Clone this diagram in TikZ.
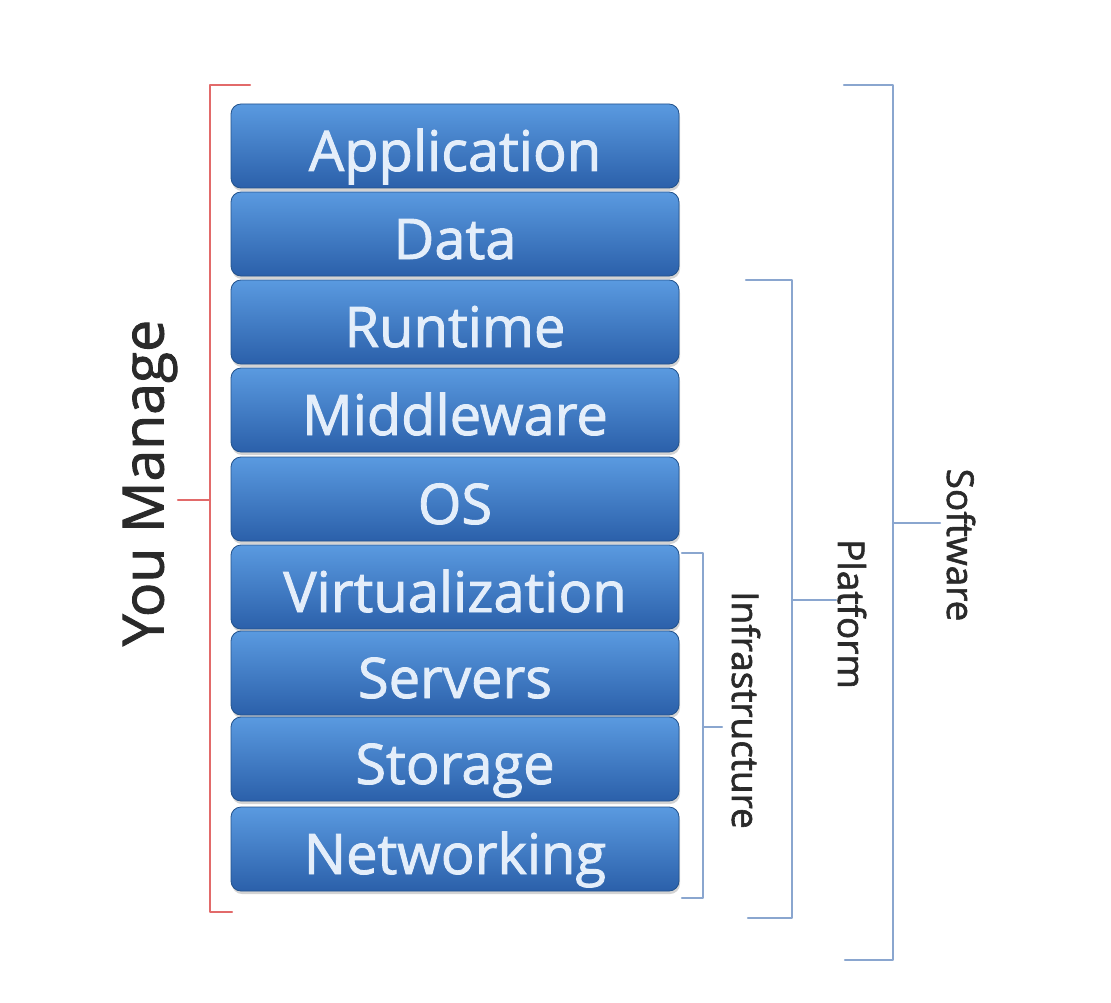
\documentclass[tikz,border=0pt]{standalone}
\usepackage{fontspec}
\setmainfont{Open Sans}
\newfontfamily\heavyfont{Open Sans}[FakeBold=1.6]
\usetikzlibrary{shadows}

\definecolor{layertop}{HTML}{5A9AE0}
\definecolor{layermid}{HTML}{3B7BCD}
\definecolor{layerbot}{HTML}{2B60AA}
\definecolor{layerline}{HTML}{22528C}
\definecolor{layertext}{HTML}{E4EEFA}
\definecolor{youred}{HTML}{E26A6A}
\definecolor{braceblue}{HTML}{8AA6CF}
\definecolor{labelgray}{HTML}{2A2A2A}

\tikzset{
  layer/.style={rounded corners=10pt, minimum width=448pt, minimum height=84pt, inner sep=0pt,
    top color=layertop, middle color=layermid, bottom color=layerbot, draw=layerline, line width=0.8pt,
    text=layertext, font=\heavyfont\fontsize{56}{62}\selectfont,
    text height=50pt, text depth=0pt,
    drop shadow={opacity=0.35, shadow xshift=1pt, shadow yshift=-3pt}},
  brace/.style={line width=2.2pt, line cap=round, line join=round},
  sidetext/.style={text=labelgray, inner sep=0pt, font=\heavyfont\fontsize{37}{44}\selectfont}
}

\begin{document}
\begin{tikzpicture}[x=1pt, y=-1pt]

  %% ════ stack of layers ════
  \node[layer] (app)    at (455,146) {Application};
  \node[layer] (data)   at (455,234) {Data};
  \node[layer] (run)    at (455,322) {Runtime};
  \node[layer] (mid)    at (455,410) {Middleware};
  \node[layer] (os)     at (455,499) {OS};
  \node[layer] (virt)   at (455,587) {Virtualization};
  \node[layer] (serv)   at (455,673) {Servers};
  \node[layer] (stor)   at (455,759) {Storage};
  \node[layer] (net)    at (455,849) {Networking};

  %% ════ brackets ════
  % you manage (red, left side)
  \draw[brace, youred] (250,85) -- (210,85) -- (210,912) -- (232,912);
  \draw[brace, youred] (210,500) -- (178,500);
  % infrastructure
  \draw[brace, braceblue] (682,553) -- (703,553) -- (703,898) -- (682,898);
  \draw[brace, braceblue] (703,727) -- (722,727);
  % platform
  \draw[brace, braceblue] (746,280) -- (792,280) -- (792,918) -- (748,918);
  \draw[brace, braceblue] (792,600) -- (836,600);
  % software
  \draw[brace, braceblue] (844,85) -- (893,85) -- (893,960) -- (845,960);
  \draw[brace, braceblue] (893,523) -- (940,523);

  %% ════ labels ════
  \node[sidetext, rotate=90, font=\heavyfont\fontsize{57}{66}\selectfont] (youmanage) at (150,483) {You Manage};
  \node[sidetext, rotate=-90] (infra)    at (746,710) {Infrastructure};
  \node[sidetext, rotate=-90] (platform) at (852,614) {Platform};
  \node[sidetext, rotate=-90] (software) at (961,545) {Software};

  % canvas
  \pgfresetboundingbox
  \path[use as bounding box] (0,0) rectangle (1111,1003);
\end{tikzpicture}
\end{document}
